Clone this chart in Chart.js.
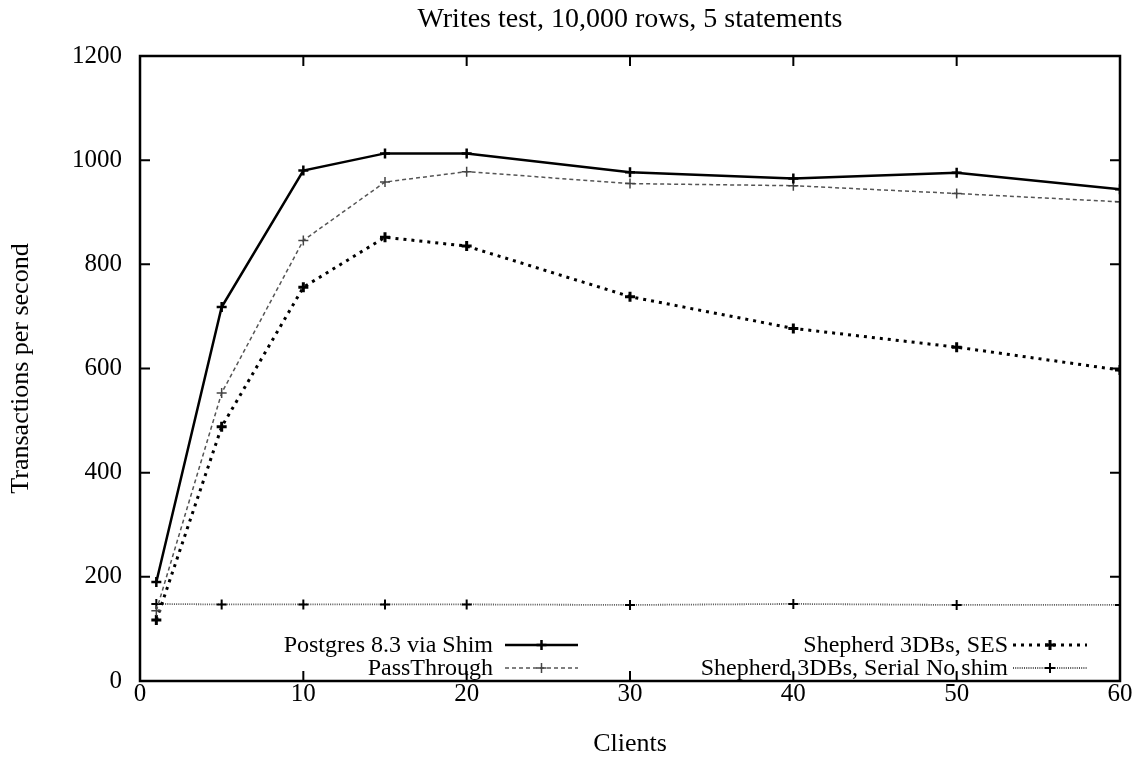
<!DOCTYPE html>
<html>
<head>
<meta charset="utf-8">
<script src="https://cdn.jsdelivr.net/npm/chart.js@4.4.1/dist/chart.umd.min.js"></script>
<style>
  html, body { margin: 0; padding: 0; background: #fff; }
  #wrap { width: 1140px; height: 771px; }
</style>
</head>
<body>
<div id="wrap"><canvas id="myChart" width="1140" height="771"></canvas></div>
<script>
// values
const clients = [1, 5, 10, 15, 20, 30, 40, 50, 60];
const postgresShim = [190, 718, 980, 1013, 1013, 977, 965, 976, 944];
const passThrough = [135, 553, 846, 958, 978, 955, 951, 936, 920];
const shepherdSes = [117, 488, 756, 852, 835, 738, 677, 641, 597];
const serialNoShim = [148, 147, 147, 147, 147, 146, 148, 146, 146];

const xTicks = [0, 10, 20, 30, 40, 50, 60];
const yTicks = [0, 200, 400, 600, 800, 1000, 1200];

const FONT = "'Liberation Serif', 'Times New Roman', serif";

const toPoints = (vals) => clients.map((c, i) => ({ x: c, y: vals[i] }));

// gnuplot style box with inward ticks
const framePlugin = {
  id: "frame",
  afterDraw(chart) {
    const { ctx, chartArea: a, scales } = chart;
    ctx.save();
    ctx.strokeStyle = "#000";
    ctx.lineWidth = 2.5;
    ctx.strokeRect(a.left, a.top, a.right - a.left, a.bottom - a.top);
    ctx.lineWidth = 2;
    const len = 10;
    ctx.beginPath();
    xTicks.forEach((v) => {
      const px = scales.x.getPixelForValue(v);
      ctx.moveTo(px, a.bottom);
      ctx.lineTo(px, a.bottom - len);
      ctx.moveTo(px, a.top);
      ctx.lineTo(px, a.top + len);
    });
    yTicks.forEach((v) => {
      const py = scales.y.getPixelForValue(v);
      ctx.moveTo(a.left, py);
      ctx.lineTo(a.left + len, py);
      ctx.moveTo(a.right, py);
      ctx.lineTo(a.right - len, py);
    });
    ctx.stroke();
    ctx.restore();
  },
};

// legend drawn like gnuplot: text right aligned, sample to the right
const legendPlugin = {
  id: "gpLegend",
  afterDraw(chart) {
    const { ctx } = chart;
    const slots = [
      { tx: 493, s0: 505, s1: 578, y: 645 },
      { tx: 493, s0: 505, s1: 578, y: 668 },
      { tx: 1008, s0: 1013, s1: 1087, y: 645 },
      { tx: 1008, s0: 1013, s1: 1087, y: 668 },
    ];
    ctx.save();
    ctx.font = "24px " + FONT;
    ctx.textAlign = "right";
    ctx.textBaseline = "middle";
    chart.data.datasets.forEach((ds, i) => {
      const s = slots[i];
      ctx.fillStyle = "#000";
      ctx.fillText(ds.label, s.tx, s.y + 1);
      ctx.strokeStyle = ds.borderColor;
      ctx.lineWidth = ds.borderWidth;
      ctx.setLineDash(ds.borderDash || []);
      ctx.beginPath();
      ctx.moveTo(s.s0, s.y);
      ctx.lineTo(s.s1, s.y);
      ctx.stroke();
      ctx.setLineDash([]);
      const cx = (s.s0 + s.s1) / 2;
      const r = ds.pointRadius;
      ctx.strokeStyle = ds.pointBorderColor;
      ctx.lineWidth = ds.pointBorderWidth;
      ctx.beginPath();
      ctx.moveTo(cx - r, s.y);
      ctx.lineTo(cx + r, s.y);
      ctx.moveTo(cx, s.y - r);
      ctx.lineTo(cx, s.y + r);
      ctx.stroke();
    });
    ctx.restore();
  },
};

const ctx = document.getElementById("myChart");

new Chart(ctx, {
  type: "line",
  data: {
    datasets: [
      {
        label: "Postgres 8.3 via Shim",
        data: toPoints(postgresShim),
        borderColor: "#000",
        borderWidth: 2.5,
        pointStyle: "cross",
        pointRadius: 5,
        pointBorderColor: "#000",
        pointBorderWidth: 2.5,
      },
      {
        label: "PassThrough",
        data: toPoints(passThrough),
        borderColor: "#555",
        borderWidth: 1.5,
        borderDash: [4, 3],
        pointStyle: "cross",
        pointRadius: 5,
        pointBorderColor: "#444",
        pointBorderWidth: 1.5,
      },
      {
        label: "Shepherd 3DBs, SES",
        data: toPoints(shepherdSes),
        borderColor: "#000",
        borderWidth: 3,
        borderDash: [3, 5],
        pointStyle: "cross",
        pointRadius: 5,
        pointBorderColor: "#000",
        pointBorderWidth: 3,
      },
      {
        label: "Shepherd 3DBs, Serial No shim",
        data: toPoints(serialNoShim),
        borderColor: "#555",
        borderWidth: 1.8,
        borderDash: [1, 1.2],
        pointStyle: "cross",
        pointRadius: 5,
        pointBorderColor: "#000",
        pointBorderWidth: 2,
      },
    ],
  },
  options: {
    responsive: false,
    animation: false,
    layout: { padding: { left: 0, right: 20, top: 0, bottom: 0 } },
    elements: { line: { tension: 0, fill: false } },
    scales: {
      x: {
        type: "linear",
        min: 0,
        max: 60,
        afterFit: (scale) => { scale.height = 90; },
        afterBuildTicks: (scale) => { scale.ticks = xTicks.map((v) => ({ value: v })); },
        grid: { display: false, drawTicks: false },
        border: { display: false },
        ticks: {
          padding: 1,
          color: "#000",
          callback: (v) => String(v),
          font: { family: FONT, size: 25, lineHeight: 1 },
        },
        title: {
          display: true,
          text: "Clients",
          color: "#000",
          font: { family: FONT, size: 26, lineHeight: 1.2 },
          padding: { top: 0, bottom: 11 },
        },
      },
      y: {
        type: "linear",
        min: 0,
        max: 1200,
        afterFit: (scale) => { scale.width = 140; },
        afterBuildTicks: (scale) => { scale.ticks = yTicks.map((v) => ({ value: v })); },
        grid: { display: false, drawTicks: false },
        border: { display: false },
        ticks: {
          padding: 18,
          color: "#000",
          callback: (v) => String(v),
          font: { family: FONT, size: 25, lineHeight: 1 },
        },
        title: {
          display: true,
          text: "Transactions per second",
          color: "#000",
          font: { family: FONT, size: 26, lineHeight: 1.2 },
          padding: { top: 6, bottom: 0 },
        },
      },
    },
    plugins: {
      legend: { display: false },
      tooltip: { enabled: false },
      title: {
        display: true,
        fullSize: false,
        text: "Writes test, 10,000 rows, 5 statements",
        color: "#000",
        font: { family: FONT, size: 28, weight: "normal", lineHeight: 1.2 },
        padding: { top: 3, bottom: 19.4 },
      },
    },
  },
  plugins: [framePlugin, legendPlugin],
});
</script>
</body>
</html>
